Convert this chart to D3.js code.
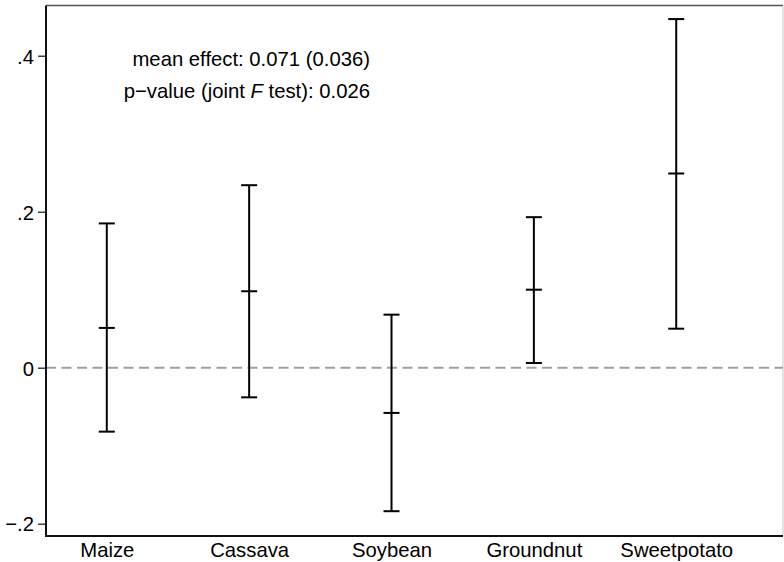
<!DOCTYPE html>
<html>
<head>
<meta charset="utf-8">
<script src="https://cdn.jsdelivr.net/npm/d3@7"></script>
<style>
  body { margin: 0; background: #fff; }
  text { font-family: "Liberation Sans", Arial, Helvetica, sans-serif; }
</style>
</head>
<body>
<script>
var w = 784;
var h = 562;

// data
var crops = ["Maize", "Cassava", "Soybean", "Groundnut", "Sweetpotato"];
var estimates = [0.051, 0.098, -0.058, 0.100, 0.249];
var lower = [-0.082, -0.038, -0.184, 0.006, 0.050];
var upper = [0.185, 0.234, 0.068, 0.193, 0.447];
var yTicks = [-0.2, 0, 0.2, 0.4];
var yTickLabels = ["\u2212.2", "0", ".2", ".4"];
var notes = ["mean effect: 0.071 (0.036)", "p\u2212value (joint ", "F", " test): 0.026"];

var plot = { left: 46, right: 783, top: 5.5, bottom: 536 };
var fontSize = 20.3;

var xScale = d3.scaleLinear()
  .domain([0.573, 5.75])
  .range([plot.left, plot.right]);

var yScale = d3.scaleLinear()
  .domain([-0.2158, 0.4644])
  .range([plot.bottom, plot.top]);

var svg = d3.select("body")
  .append("svg")
  .attr("width", w)
  .attr("height", h);

// plot region outline (top and right)
svg.append("line")
  .attr("x1", plot.left).attr("x2", plot.right)
  .attr("y1", plot.top).attr("y2", plot.top)
  .attr("stroke", "#555").attr("stroke-width", 1.5);
svg.append("line")
  .attr("x1", plot.right).attr("x2", plot.right)
  .attr("y1", plot.top).attr("y2", plot.bottom)
  .attr("stroke", "#c8c8c8").attr("stroke-width", 1);

// zero reference line
svg.append("line")
  .attr("x1", plot.left).attr("x2", plot.right)
  .attr("y1", yScale(0)).attr("y2", yScale(0))
  .attr("stroke", "#a0a0a0")
  .attr("stroke-width", 2)
  .attr("stroke-dasharray", "10,5.5");

// y axis
var yAxis = d3.axisLeft(yScale)
  .tickValues(yTicks)
  .tickSize(8)
  .tickPadding(4)
  .tickFormat(function (d, i) { return yTickLabels[i]; });

var gy = svg.append("g")
  .attr("transform", "translate(" + plot.left + ",0)")
  .call(yAxis);
gy.select(".domain").remove();
gy.append("line")
  .attr("x1", 0).attr("x2", 0)
  .attr("y1", plot.top).attr("y2", plot.bottom + 1)
  .attr("stroke", "#111").attr("stroke-width", 2);
gy.selectAll(".tick line").attr("stroke", "#222").attr("stroke-width", 1.3);
gy.selectAll(".tick text")
  .attr("font-size", fontSize)
  .attr("fill", "#000")
  .attr("dy", "0.36em")
  .attr("x", -12);

// x axis
var xAxis = d3.axisBottom(xScale)
  .tickValues([1, 2, 3, 4, 5])
  .tickSize(0)
  .tickPadding(6)
  .tickFormat(function (d) { return crops[d - 1]; });

var gx = svg.append("g")
  .attr("transform", "translate(0," + plot.bottom + ")")
  .call(xAxis);
gx.select(".domain").remove();
gx.append("line")
  .attr("x1", plot.left - 1).attr("x2", plot.right)
  .attr("y1", 0).attr("y2", 0)
  .attr("stroke", "#111").attr("stroke-width", 2);
gx.selectAll(".tick text")
  .attr("font-size", fontSize)
  .attr("fill", "#000")
  .attr("y", 20.5)
  .attr("dy", 0);

// error bars
var bars = svg.selectAll("g.bar")
  .data(crops)
  .enter()
  .append("g")
  .attr("class", "bar")
  .attr("stroke", "#000")
  .attr("stroke-width", 2);

bars.append("line")
  .attr("x1", function (d, i) { return xScale(i + 1); })
  .attr("x2", function (d, i) { return xScale(i + 1); })
  .attr("y1", function (d, i) { return yScale(lower[i]); })
  .attr("y2", function (d, i) { return yScale(upper[i]); });

[lower, estimates, upper].forEach(function (arr) {
  bars.append("line")
    .attr("x1", function (d, i) { return xScale(i + 1) - 8; })
    .attr("x2", function (d, i) { return xScale(i + 1) + 8; })
    .attr("y1", function (d, i) { return yScale(arr[i]); })
    .attr("y2", function (d, i) { return yScale(arr[i]); });
});

// notes
svg.append("text")
  .attr("x", 370)
  .attr("y", 65.5)
  .attr("text-anchor", "end")
  .attr("font-size", fontSize)
  .text(notes[0]);

var t2 = svg.append("text")
  .attr("x", 370)
  .attr("y", 97.5)
  .attr("text-anchor", "end")
  .attr("font-size", fontSize);
t2.append("tspan").text(notes[1]);
t2.append("tspan").attr("font-style", "italic").text(notes[2]);
t2.append("tspan").text(notes[3]);
</script>
</body>
</html>
